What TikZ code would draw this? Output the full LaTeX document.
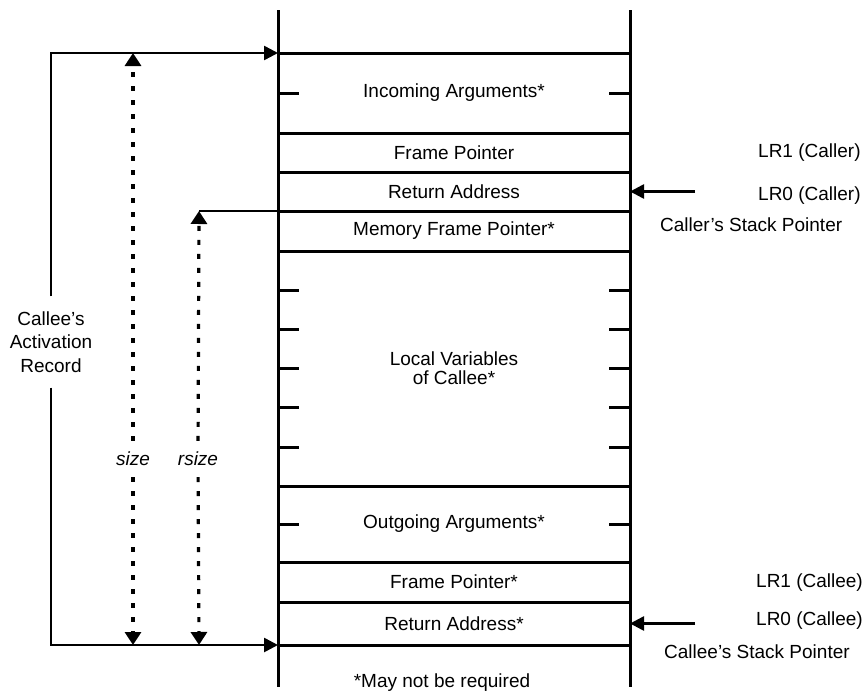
\documentclass[tikz,border=0pt]{standalone}
\usepackage{fontspec}
\setmainfont{Liberation Sans}
\usetikzlibrary{arrows.meta}

\begin{document}
\begin{tikzpicture}[x=1pt, y=-1pt, font=\fontsize{19}{23}\selectfont,
        slot_style/.style={rectangle, draw=black, line width=3pt, minimum width=352pt, inner sep=0pt, outer sep=0pt},
        wall_style/.style={draw=black, line width=3pt},
        label_style/.style={anchor=west, inner sep=0pt},
        line_style/.style={draw=black, line width=2.6pt},
        edge_style/.style={draw=black, line width=2.6pt, -{Triangle[length=14pt, width=14pt]}},
        dim_style/.style={draw=black, line width=3.2pt, dash pattern=on 5pt off 9pt, -{Triangle[length=13pt, width=16pt]}},
        dim_label_style/.style={font=\fontsize{19}{23}\selectfont\itshape, inner xsep=2pt, inner ysep=11pt}]

        \useasboundingbox (0,0) rectangle (867,696);

        % stack column
        \draw [wall_style] (278,10) -- (278,687);

        \draw [wall_style] (630,10) -- (630,687);

        \node [slot_style, minimum height=80pt](s1) at (454,93) {Incoming Arguments*};

        \node [slot_style, minimum height=39pt](s2) at (454,152.5) {Frame Pointer};

        \node [slot_style, minimum height=39pt](s3) at (454,191.5) {Return Address};

        \node [slot_style, minimum height=40pt](s4) at (454,231) {Memory Frame Pointer*};

        \node [slot_style, minimum height=235pt, align=center, font=\fontsize{19}{19}\selectfont](s5) at (454,368.5) {Local Variables\\of Callee*};

        \node [slot_style, minimum height=76pt](s6) at (454,524) {Outgoing Arguments*};

        \node [slot_style, minimum height=40pt](s7) at (454,582) {Frame Pointer*};

        \node [slot_style, minimum height=43pt](s8) at (454,623.5) {Return Address*};

        \foreach \y in {93,290,329,368,407,447,524} {
            \draw [wall_style] (278,\y) -- +(21,0);
            \draw [wall_style] (630,\y) -- +(-21,0);
        }

        % right side
        \node [label_style](l1) at (758,153) {LR1 (Caller)};

        \node [label_style](l2) at (758,196) {LR0 (Caller)};

        \node [label_style](l3) at (660,225) {Caller's Stack Pointer};

        \node [label_style](l4) at (756,583) {LR1 (Callee)};

        \node [label_style](l5) at (756,621) {LR0 (Callee)};

        \node [label_style](l6) at (664,652) {Callee's Stack Pointer};

        \coordinate (p1) at (695,191.5);

        \coordinate (p2) at (695,623.5);

        \draw [edge_style] (p1) -- (s3.east);

        \draw [edge_style] (p2) -- (s8.east);

        % left side
        \node [align=center, inner xsep=0pt, inner ysep=15pt, font=\fontsize{19}{23.5}\selectfont](act) at (51,342) {Callee's\\Activation\\Record};

        \draw [edge_style] (act) |- (s1.north west);

        \draw [edge_style] (act) |- (s8.south west);

        \node [dim_label_style](d1) at (133,459) {size};

        \node [dim_label_style](d2) at (198,459) {rsize};

        \coordinate (t1) at (133,53);

        \coordinate (b1) at (133,645);

        \coordinate (t2) at (199,211);

        \coordinate (b2) at (199,645);

        \draw [line_style] (t2) -- (s4.north west);

        \draw [dim_style] (d1) -- (t1);

        \draw [dim_style] (d1) -- (b1);

        \draw [dim_style] (d2) -- (t2);

        \draw [dim_style] (d2) -- (b2);

        \node (n1) at (442,683) {*May not be required};

        \end{tikzpicture}
\end{document}
